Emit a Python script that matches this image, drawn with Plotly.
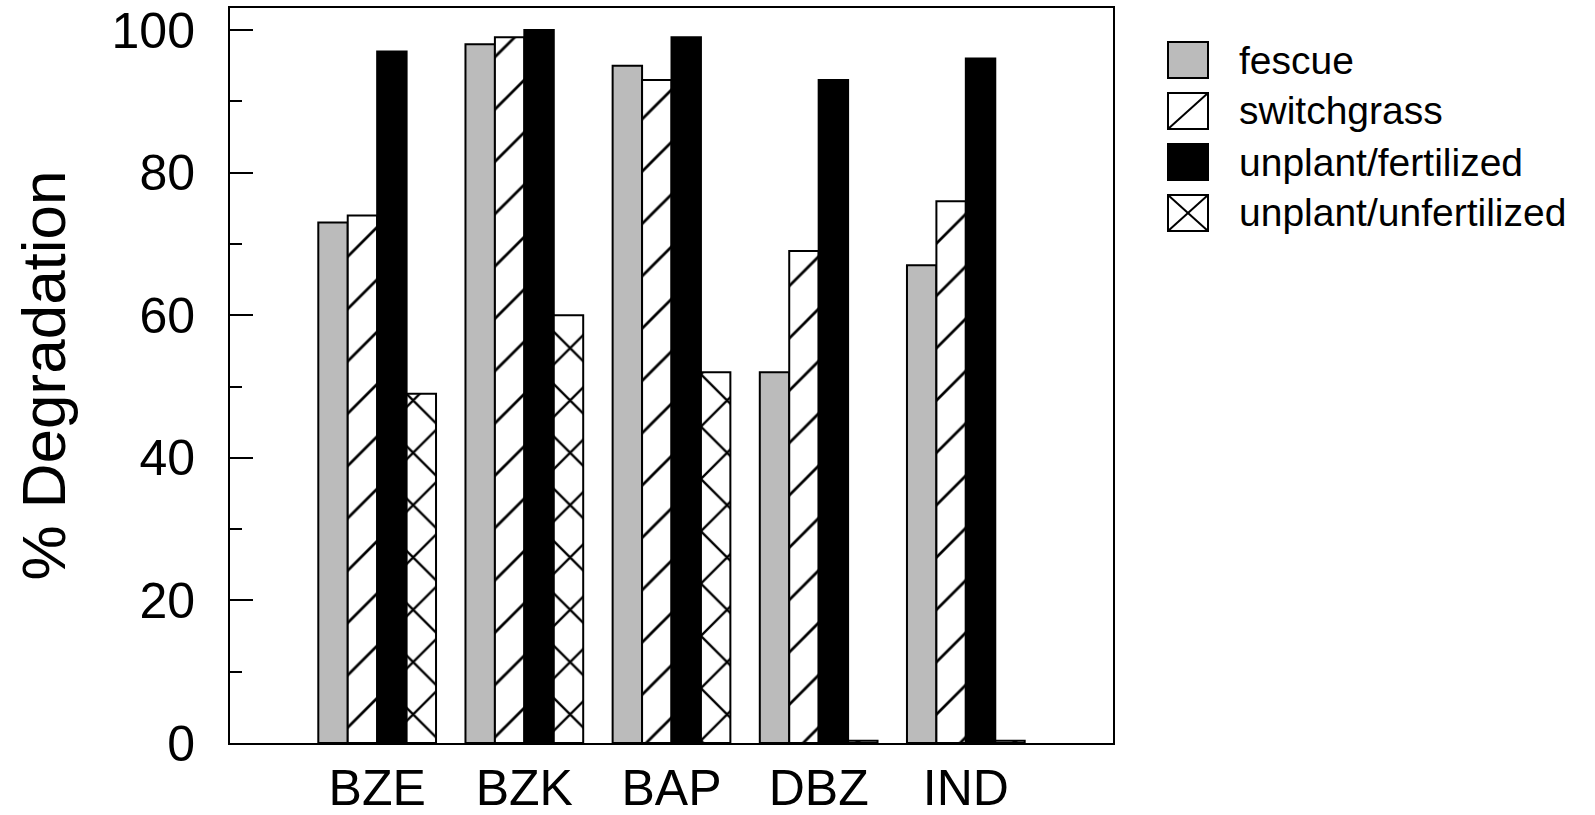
import plotly.graph_objects as go

# ---------------- data ----------------
categories = ["BZE", "BZK", "BAP", "DBZ", "IND"]
fescue = [73, 98, 95, 52, 67]
switchgrass = [74, 99, 93, 69, 76]
unplant_fertilized = [97, 100, 99, 93, 96]
unplant_unfertilized = [49, 60, 52, 0.3, 0.3]
series_names = ["fescue", "switchgrass", "unplant/fertilized", "unplant/unfertilized"]
y_tick_vals = [0, 20, 40, 60, 80, 100]
y_title = "% Degradation"

# ---------------- style ----------------
FONT = "Liberation Sans, Arial, sans-serif"
W, H = 1595, 815
ML, MR, MT, MB = 230, 482, 8, 72
GRAY = "#BBBBBB"

styles = [
    dict(color=GRAY, pattern=None),
    dict(color="white", pattern=dict(shape="/", fgcolor="black", bgcolor="white", size=37, solidity=0.075, fillmode="replace")),
    dict(color="black", pattern=None),
    dict(color="white", pattern=dict(shape="x", fgcolor="black", bgcolor="white", size=37, solidity=0.12, fillmode="replace")),
]

series_values = [fescue, switchgrass, unplant_fertilized, unplant_unfertilized]

fig = go.Figure()
for name, vals, st in zip(series_names, series_values, styles):
    marker = dict(color=st["color"], line=dict(color="black", width=2))
    if st["pattern"] is not None:
        marker["pattern"] = st["pattern"]
    fig.add_trace(go.Bar(x=categories, y=vals, name=name, marker=marker, showlegend=False))

# ---------------- custom legend (large swatches) ----------------
pw = W - ML - MR
ph = H - MT - MB


def xp(px):
    return (px - ML) / pw


def yp(py):
    return (H - MB - py) / ph


sw_x0, sw_w, sw_h = 1168, 40, 36
row0, row_step = 60, 51
text_x = 1237
shapes = []
annotations = []
for i, (name, st) in enumerate(zip(series_names, styles)):
    cy = row0 + i * row_step
    y0, y1 = cy + sw_h / 2, cy - sw_h / 2
    shapes.append(dict(type="rect", xref="paper", yref="paper",
                       x0=xp(sw_x0), x1=xp(sw_x0 + sw_w), y0=yp(y0), y1=yp(y1),
                       fillcolor=st["color"], line=dict(color="black", width=2)))
    if st["pattern"] is not None:
        shapes.append(dict(type="line", xref="paper", yref="paper",
                           x0=xp(sw_x0), x1=xp(sw_x0 + sw_w), y0=yp(y0), y1=yp(y1),
                           line=dict(color="black", width=2)))
        if st["pattern"]["shape"] == "x":
            shapes.append(dict(type="line", xref="paper", yref="paper",
                               x0=xp(sw_x0), x1=xp(sw_x0 + sw_w), y0=yp(y1), y1=yp(y0),
                               line=dict(color="black", width=2)))
    annotations.append(dict(text=name, xref="paper", yref="paper", x=xp(text_x), y=yp(cy),
                            xanchor="left", yanchor="middle", showarrow=False,
                            font=dict(family=FONT, size=39, color="black")))

fig.update_layout(
    width=W, height=H,
    margin=dict(l=ML, r=MR, t=MT, b=MB, autoexpand=False),
    paper_bgcolor="white", plot_bgcolor="white",
    barmode="group", bargap=0.2, bargroupgap=0,
    font=dict(family=FONT, color="black"),
    shapes=shapes, annotations=annotations,
    showlegend=False,
)

fig.update_xaxes(
    type="category", range=[-1, 5],
    showline=True, linecolor="black", linewidth=2, mirror=True,
    ticks="", showgrid=False, zeroline=False,
    tickfont=dict(family=FONT, size=50, color="black"),
    automargin=False,
)
fig.update_yaxes(
    range=[0, 103.1],
    tickvals=y_tick_vals,
    showline=True, linecolor="black", linewidth=2, mirror=True,
    ticks="inside", ticklen=23, tickwidth=2, tickcolor="black",
    minor=dict(dtick=10, ticks="inside", ticklen=12, tickwidth=2, tickcolor="black"),
    showgrid=False, zeroline=False,
    tickfont=dict(family=FONT, size=50, color="black"),
    ticklabelstandoff=23,
    title=dict(text=y_title, font=dict(family=FONT, size=62, color="black"), standoff=26),
    automargin=False,
)

fig.write_html("out.html",
               config={"displayModeBar": False},
               post_script="document.body.style.margin='0';document.body.style.padding='0';document.body.style.overflow='hidden';")
